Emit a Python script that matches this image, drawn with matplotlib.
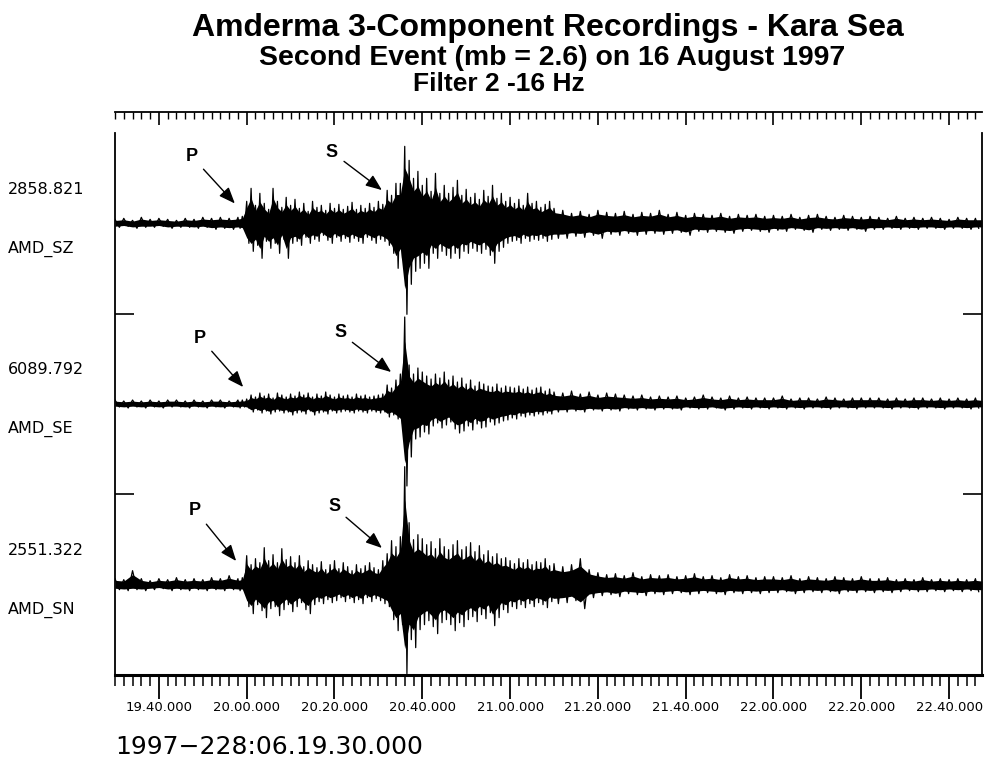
import numpy as np
import matplotlib.pyplot as plt
from matplotlib.ticker import MultipleLocator, FuncFormatter, NullFormatter

# sample times, seconds after 1997-228:06.19.30.000
t_knots = np.r_[0:29:2, 29:101, 102:197:2, 197.5]

stations = ["AMD_SZ", "AMD_SE", "AMD_SN"]
max_counts = ["2858.821", "6089.792", "2551.322"]

# envelope (screen pixels above / below the trace line)
# rows: 0-28 s (2 s), 29-40, 41-52, 53-64, 65-76, 77-88, 89-100 (1 s),
#       102-124, 126-148, 150-172, 174-196 (2 s), 197.5
sz_up = [4, 5, 3, 6, 4, 5, 4, 3, 5, 4, 6, 5, 6, 5, 6,
         7, 22, 35, 18, 30, 20, 14, 35, 22, 16, 26, 18,
         24, 15, 20, 12, 22, 16, 18, 13, 20, 15, 19, 14,
         17, 21, 14, 18, 15, 20, 16, 22, 19, 33, 28, 40,
         40, 77, 63, 45, 52, 38, 45, 32, 50, 30, 38, 30,
         36, 43, 28, 34, 26, 30, 24, 33, 27, 38, 25, 30,
         22, 26, 20, 24, 18, 30, 20, 22, 16, 19, 22, 15,
         13, 10, 12, 9, 13, 11, 10, 12, 9, 11, 10, 13,
         9, 11, 8, 10, 9, 8, 10, 7, 9, 8, 9, 7,
         8, 7, 9, 6, 8, 9, 7, 6, 8, 7, 6, 7,
         6, 5, 7, 5, 6, 5, 6, 5, 4, 6, 5, 5,
         5]
sz_lo = [4, 3, 5, 4, 4, 3, 5, 4, 4, 5, 4, 6, 5, 6, 5,
         6, 20, 28, 22, 35, 18, 25, 20, 30, 16, 35, 20,
         18, 22, 14, 20, 16, 18, 12, 17, 20, 14, 18, 15,
         19, 15, 18, 20, 14, 17, 20, 16, 18, 22, 30, 45,
         35, 91, 61, 48, 45, 40, 45, 30, 35, 28, 32, 35,
         30, 35, 28, 30, 25, 28, 30, 26, 32, 40, 28, 24,
         20, 18, 17, 20, 15, 18, 16, 17, 15, 18, 16, 15,
         15, 13, 14, 12, 15, 11, 12, 10, 12, 11, 10, 11,
         10, 9, 12, 8, 9, 8, 9, 10, 8, 7, 8, 9,
         7, 8, 6, 7, 9, 6, 7, 6, 7, 6, 8, 6,
         6, 5, 6, 5, 6, 5, 5, 6, 5, 5, 6, 5,
         5]

se_up = [4, 3, 4, 3, 4, 3, 4, 4, 3, 4, 3, 4, 4, 3, 4,
         4, 5, 9, 7, 11, 8, 10, 6, 11, 9, 7, 10,
         8, 12, 9, 11, 7, 10, 8, 12, 9, 7, 10, 8,
         9, 7, 10, 8, 9, 7, 8, 9, 10, 19, 16, 24,
         30, 87, 39, 30, 36, 32, 28, 25, 30, 26, 32, 24,
         28, 22, 26, 20, 24, 18, 22, 20, 18, 17, 20, 16,
         18, 17, 16, 18, 15, 17, 14, 16, 17, 13, 15, 12,
         11, 13, 10, 12, 9, 11, 10, 9, 8, 9, 7, 8,
         7, 8, 6, 7, 9, 7, 6, 8, 6, 7, 6, 6,
         6, 8, 5, 6, 6, 5, 7, 6, 5, 6, 6, 6,
         6, 5, 6, 5, 6, 6, 5, 6, 5, 6, 5, 6,
         5]
se_lo = [3, 4, 3, 4, 3, 4, 3, 3, 4, 3, 4, 3, 4, 3, 4,
         3, 4, 8, 6, 9, 7, 10, 8, 7, 9, 8, 11,
         9, 8, 10, 7, 11, 9, 8, 10, 7, 9, 8, 7,
         8, 9, 7, 8, 9, 7, 8, 9, 8, 13, 11, 15,
         20, 82, 53, 35, 33, 28, 30, 22, 19, 24, 21, 18,
         25, 29, 27, 22, 26, 20, 24, 23, 18, 21, 19, 17,
         16, 14, 15, 12, 13, 11, 12, 10, 11, 9, 10, 8,
         8, 7, 8, 6, 7, 6, 7, 5, 6, 5, 6, 5,
         5, 6, 4, 5, 5, 4, 6, 5, 4, 5, 4, 5,
         4, 5, 4, 5, 4, 4, 5, 4, 4, 5, 4, 4,
         4, 5, 4, 4, 5, 4, 4, 5, 4, 4, 5, 4,
         4]

sn_up = [6, 5, 14, 6, 4, 6, 5, 7, 5, 6, 5, 7, 6, 9, 6,
         7, 29, 20, 26, 22, 37, 24, 30, 22, 36, 25, 28,
         22, 29, 18, 24, 20, 17, 23, 15, 20, 24, 16, 22,
         18, 14, 20, 16, 19, 22, 17, 15, 24, 31, 44, 38,
         48, 118, 62, 45, 50, 46, 40, 43, 36, 46, 38, 35,
         40, 44, 35, 38, 42, 33, 39, 30, 34, 28, 31, 26,
         27, 24, 21, 26, 22, 25, 20, 23, 22, 26, 19, 21,
         18, 20, 26, 15, 12, 10, 11, 9, 12, 8, 10, 9,
         10, 8, 9, 11, 8, 9, 7, 10, 8, 9, 7, 8,
         8, 7, 9, 6, 8, 7, 6, 8, 7, 6, 8, 6,
         6, 7, 5, 6, 5, 7, 5, 6, 5, 6, 5, 6,
         5]
sn_lo = [5, 6, 5, 6, 5, 4, 6, 5, 6, 5, 6, 5, 6, 5, 6,
         6, 22, 29, 20, 26, 33, 24, 22, 31, 25, 20, 27,
         22, 18, 25, 29, 20, 17, 19, 15, 18, 16, 13, 17,
         14, 18, 15, 19, 13, 17, 14, 16, 19, 22, 35, 46,
         40, 89, 55, 63, 45, 40, 36, 42, 49, 38, 35, 40,
         46, 38, 42, 35, 32, 37, 30, 34, 28, 41, 33, 25,
         28, 22, 24, 20, 23, 19, 22, 18, 20, 23, 17, 19,
         18, 16, 24, 13, 11, 10, 12, 9, 10, 11, 9, 10,
         9, 8, 10, 9, 8, 9, 10, 8, 9, 8, 9, 8,
         8, 7, 9, 8, 7, 8, 7, 9, 7, 8, 7, 8,
         7, 8, 7, 6, 7, 7, 6, 7, 6, 7, 6, 7,
         7]

traces = [(sz_up, sz_lo), (se_up, se_lo), (sn_up, sn_lo)]
offsets = [2.5, 1.5, 0.5]
LANE_PX = 180.7

# phase picks: label position and arrow tip (time, lane)
p_label = [(17.5, 2.87), (19.4, 1.865), (18.2, 0.913)]
p_tip = [(27.3, 2.61), (29.2, 1.594), (27.6, 0.631)]
s_label = [(49.4, 2.894), (51.3, 1.893), (49.9, 0.93)]
s_tip = [(60.8, 2.684), (62.9, 1.677), (60.8, 0.703)]

fig = plt.figure(figsize=(9.85, 7.62), dpi=100)
ax = fig.add_axes([115 / 985, 87 / 762, 867 / 985, 542 / 762])

# each sample is drawn as a swing from its upper peak to its lower trough
t_mid = (t_knots[:-1] + t_knots[1:]) / 2
t_line = np.column_stack([t_knots[:-1], t_mid]).ravel()
for (up, lo), off in zip(traces, offsets):
    up = np.array(up) / LANE_PX
    lo = np.array(lo) / LANE_PX
    ax.fill_between(t_knots, off + 0.72 * up, off - 0.72 * lo, color="black", lw=0)
    y_line = np.column_stack([off + up[:-1], off - lo[:-1]]).ravel()
    ax.plot(t_line, y_line, color="black", lw=0.9)

arrow = dict(arrowstyle="-|>,head_length=0.7,head_width=0.28", color="black",
             lw=1.0, shrinkA=3, shrinkB=0, mutation_scale=14)
for lab, tips, txt in [(p_label, p_tip, "P"), (s_label, s_tip, "S")]:
    for (tx, ty), (hx, hy) in zip(lab, tips):
        ax.annotate(txt, xy=(hx, hy), xytext=(tx, ty), fontsize=13,
                    fontweight="bold", ha="center", va="center",
                    family="Liberation Sans", arrowprops=arrow)

for name, cnt, off in zip(stations, max_counts, offsets):
    ax.annotate(cnt, xy=(8, off + 0.19), xycoords=("figure pixels", "data"),
                ha="left", va="center", fontsize=11.5)
    ax.annotate(name, xy=(8, off - 0.14), xycoords=("figure pixels", "data"),
                ha="left", va="center", fontsize=11.5)

ax.set_xlim(0, 197.5)
ax.set_ylim(0, 3)


def clock(t, pos):
    total = int(round(19 * 60 + 30 + t))
    return f"{total // 60:02d}.{total % 60:02d}.000"


ax.xaxis.set_major_locator(MultipleLocator(20, offset=10))
ax.xaxis.set_minor_locator(MultipleLocator(2))
ax.xaxis.set_major_formatter(FuncFormatter(clock))
ax.tick_params(axis="x", which="major", direction="out", length=17, width=1.3,
               labelsize=9.5, pad=2)
ax.tick_params(axis="x", which="minor", direction="out", length=8, width=1.1)
ax.set_yticks([0, 1, 2])
ax.tick_params(axis="y", direction="in", length=14, width=1.2, left=True,
               right=True, labelleft=False)
ax.spines["top"].set_visible(False)
ax.spines["bottom"].set_linewidth(2.2)
for s in ["left", "right"]:
    ax.spines[s].set_linewidth(1.3)

# separate time ruler above the panel
ruler = ax.secondary_xaxis(1 + 21 / 542)
ruler.xaxis.set_major_locator(MultipleLocator(20, offset=10))
ruler.xaxis.set_minor_locator(MultipleLocator(2))
ruler.xaxis.set_major_formatter(NullFormatter())
ruler.tick_params(which="major", direction="in", length=9, width=1.2)
ruler.tick_params(which="minor", direction="in", length=5, width=1.0)
ruler.spines["top"].set_linewidth(1.3)

head = ["Liberation Sans", "DejaVu Sans"]
fig.text(548 / 985, 1 - 28 / 762, "Amderma 3-Component Recordings - Kara Sea",
         ha="center", va="center", fontsize=23, fontweight="bold", family=head)
fig.text(552 / 985, 1 - 58 / 762, "Second Event (mb = 2.6) on 16 August 1997",
         ha="center", va="center", fontsize=20.4, fontweight="bold", family=head)
fig.text(499 / 985, 1 - 84 / 762, "Filter 2 -16 Hz",
         ha="center", va="center", fontsize=19, fontweight="bold", family=head)
fig.text(115 / 985, 1 - 747 / 762, "1997\u2212228:06.19.30.000",
         ha="left", va="center", fontsize=18)

fig.savefig("out.png", dpi=100)
